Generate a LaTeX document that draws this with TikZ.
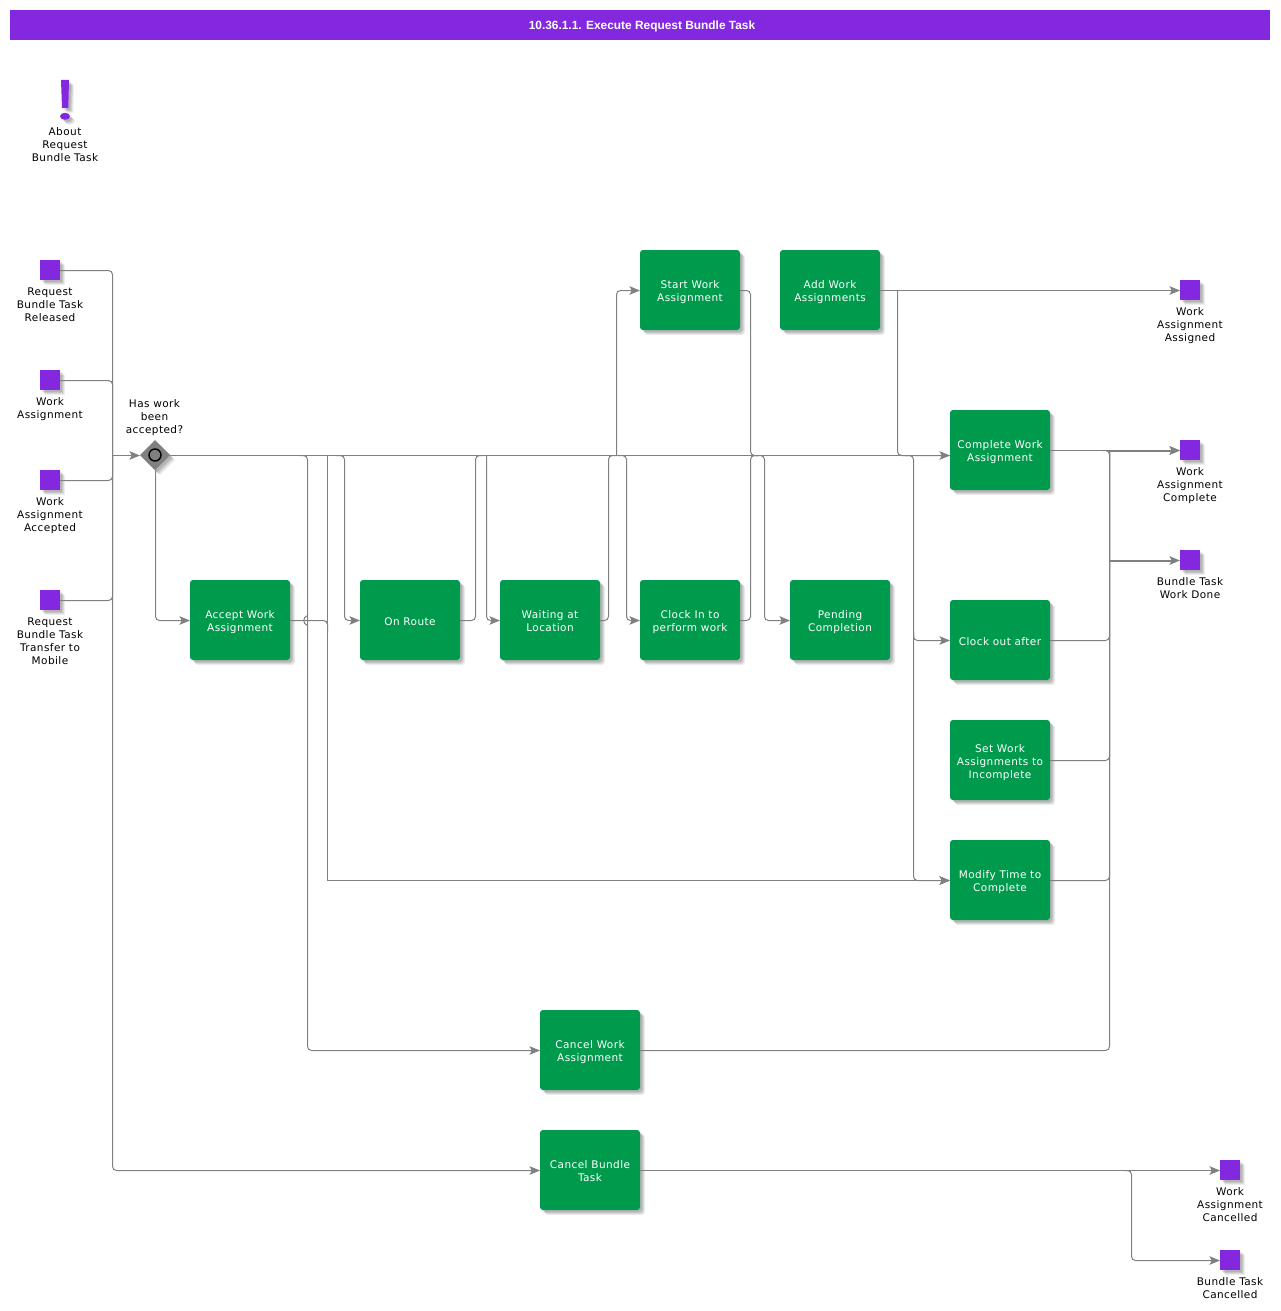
\documentclass[tikz,border=0pt]{standalone}
\usepackage{fontspec}
\setmainfont[LetterSpace=4]{DejaVu Sans}
\newfontfamily\titlefont{Liberation Sans}
\usetikzlibrary{arrows.meta,shapes.geometric,shadows}
\definecolor{bandpurple}{HTML}{8428E0}
\definecolor{taskgreen}{HTML}{009A4D}
\definecolor{linegray}{HTML}{808080}
\newcommand{\tasktext}[1]{\raisebox{-2.4pt}[\height][\depth]{\begin{tabular}{@{}c@{}}#1\end{tabular}}}
\tikzset{
  softshadow/.style={
     drop shadow={shadow xshift=5pt,shadow yshift=-5pt,opacity=.07,fill=black},
     drop shadow={shadow xshift=4pt,shadow yshift=-4pt,opacity=.08,fill=black},
     drop shadow={shadow xshift=3pt,shadow yshift=-3pt,opacity=.09,fill=black},
     drop shadow={shadow xshift=2pt,shadow yshift=-2pt,opacity=.09,fill=black}},
  taskbox/.style={rectangle,rounded corners=3pt,fill=taskgreen,minimum width=100pt,minimum height=80pt,
     inner sep=0pt,outer sep=0pt,text=white,font=\fontsize{10.5}{13}\selectfont,softshadow},
  evbox/.style={rectangle,fill=bandpurple,minimum size=20pt,inner sep=0pt,outer sep=0pt,softshadow},
  lbl/.style={align=center,inner sep=0pt,text=black,font=\fontsize{10.5}{13}\selectfont},
  conn/.style={draw=linegray,line width=1pt,rounded corners=4pt},
  flow/.style={conn,-{Stealth[length=10.5pt,width=8.5pt,inset=2.2pt,fill=linegray]}},
  flowthick/.style={flow,line width=2pt},
}
\begin{document}
\begin{tikzpicture}[x=1pt,y=-1pt]
\useasboundingbox (0,0) rectangle (1280,1311);
% title
\node[rectangle,fill=bandpurple,minimum width=1260pt,minimum height=30pt,inner sep=0pt,outer sep=0pt] (band) at (640,25) {};
\node[text=white,inner sep=0pt,font=\titlefont\fontsize{11.9}{14}\bfseries\selectfont] (title) at (642,26) {10.36.1.1. Execute Request Bundle Task};
% about mark
\fill[bandpurple,softshadow] (61,80) -- (69,80) -- (68.3,108) -- (62,108) -- cycle;
\fill[bandpurple,softshadow] (65,116.3) ellipse [x radius=5,y radius=3.5];
\node[lbl] (about) at (65,145) {About\\Request\\Bundle Task};
% start events
\node[evbox] (e1) at (50,270) {};
\node[lbl] (e1l) at (50,305) {Request\\Bundle Task\\Released};
\node[evbox] (e2) at (50,380) {};
\node[lbl] (e2l) at (50,409) {Work\\Assignment};
\node[evbox] (e3) at (50,480) {};
\node[lbl] (e3l) at (50,515.5) {Work\\Assignment\\Accepted};
\node[evbox] (e4) at (50,600) {};
\node[lbl] (e4l) at (50,641.5) {Request\\Bundle Task\\Transfer to\\Mobile};
% gateway
\node[diamond,aspect=1,fill=linegray,minimum size=30pt,inner sep=0pt,outer sep=0pt,softshadow] (gw) at (155,455) {};
\node[circle,draw=black,line width=1.4pt,fill=linegray,minimum size=12pt,inner sep=0pt] (gwc) at (155,455) {};
\node[lbl] (gwl) at (154.5,417.5) {Has work\\been\\accepted?};
% tasks
\node[taskbox] (acc) at (240,620) {\tasktext{Accept Work\\Assignment}};
\node[taskbox] (onr) at (410,620) {\tasktext{On Route}};
\node[taskbox] (wai) at (550,620) {\tasktext{Waiting at\\Location}};
\node[taskbox] (cli) at (690,620) {\tasktext{Clock In to\\perform work}};
\node[taskbox] (pen) at (840,620) {\tasktext{Pending\\Completion}};
\node[taskbox] (sta) at (690,290) {\tasktext{Start Work\\Assignment}};
\node[taskbox] (add) at (830,290) {\tasktext{Add Work\\Assignments}};
\node[taskbox] (com) at (1000,450) {\tasktext{Complete Work\\Assignment}};
\node[taskbox] (clo) at (1000,640) {\tasktext{Clock out after}};
\node[taskbox] (set) at (1000,760) {\tasktext{Set Work\\Assignments to\\Incomplete}};
\node[taskbox] (mod) at (1000,880) {\tasktext{Modify Time to\\Complete}};
\node[taskbox] (caw) at (590,1050) {\tasktext{Cancel Work\\Assignment}};
\node[taskbox] (cab) at (590,1170) {\tasktext{Cancel Bundle\\Task}};
% end events
\node[evbox] (x1) at (1190,290) {};
\node[lbl] (x1l) at (1190,325.5) {Work\\Assignment\\Assigned};
\node[evbox] (x2) at (1190,450) {};
\node[lbl] (x2l) at (1190,485.5) {Work\\Assignment\\Complete};
\node[evbox] (x3) at (1190,560) {};
\node[lbl] (x3l) at (1190,588.5) {Bundle Task\\Work Done};
\node[evbox] (x4) at (1230,1170) {};
\node[lbl] (x4l) at (1230,1205) {Work\\Assignment\\Cancelled};
\node[evbox] (x5) at (1230,1260) {};
\node[lbl] (x5l) at (1230,1288.5) {Bundle Task\\Cancelled};
% junction coordinates
\coordinate (jg) at (112.5,455.5);
\coordinate (m300) at (299,455.5);
\coordinate (m307) at (307.5,455.5);
\coordinate (m327) at (327.5,455.5);
\coordinate (m336) at (336,455.5);
\coordinate (m344) at (344.5,455.5);
\coordinate (m475) at (475.5,455.5);
\coordinate (m484) at (484,455.5);
\coordinate (m486) at (486.5,455.5);
\coordinate (m608) at (608.5,455.5);
\coordinate (m617) at (617,455.5);
\coordinate (m616) at (616.5,455.5);
\coordinate (m618) at (618,455.5);
\coordinate (m626) at (626.5,455.5);
\coordinate (m750) at (750.5,455.5);
\coordinate (m758) at (758,455.5);
\coordinate (m756) at (756,455.5);
\coordinate (m764) at (764.5,455.5);
\coordinate (m905) at (905,455.5);
\coordinate (m913) at (913.5,455.5);
\coordinate (a897) at (897.5,290.5);
\coordinate (v913) at (913.5,632);
\coordinate (o1109) at (1109.5,450.5);
\coordinate (o1102) at (1102,450.5);
\coordinate (d1109) at (1109.5,560.5);
\coordinate (b1124) at (1124,1170.5);
\coordinate (b1131) at (1131.5,1170.5);
\coordinate (hopa) at (307.5,615.5);
\coordinate (hopc) at (307.5,625.5);
% connectors into the gateway
\draw[flow] ([yshift=-.5pt]e1.east) -| (jg) |- ([yshift=-.5pt]cab.west);
\draw[conn] ([yshift=-.5pt]e2.east) -| (jg);
\draw[conn] ([yshift=-.5pt]e3.east) -| (jg);
\draw[conn] ([yshift=-.5pt]e4.east) -| (jg);
\draw[flow] (jg) -- ([yshift=-.5pt]gw.west);
% main line and gateway branch
\draw[flow] ([yshift=-.5pt]gw.east) -- ([yshift=-5.5pt]com.west);
\draw[flow] ([xshift=.5pt]gw.south) |- ([yshift=-.5pt]acc.west);
% branches from main line
\draw[flow] (m300) -- (m307) |- ([yshift=-.5pt]caw.west);
\draw[flow,sharp corners] (m327) |- ([yshift=-.5pt]mod.west);
\draw[flow] (m336) -- (m344) |- ([yshift=-.5pt]onr.west);
\draw[flow] (m486) |- ([yshift=-.5pt]wai.west);
\draw[flow] (m618) -- (m626) |- ([yshift=-.5pt]cli.west);
\draw[flow] (m616) |- ([yshift=-.5pt]sta.west);
\draw[flow] (m756) -- (m764) |- ([yshift=-.5pt]pen.west);
\draw[flow] (m905) -- (m913) |- ([yshift=-.5pt]clo.west);
\draw[flow] (v913) |- ([yshift=-.5pt]mod.west);
% outputs back to main line
\draw[conn] ([yshift=-.5pt]acc.east) -| (m327 |- v913);
\draw[conn,sharp corners] (hopa) .. controls (302.5,617) and (302.5,624) .. (hopc);
\draw[conn] ([yshift=-.5pt]onr.east) -| (m475) -- (m484);
\draw[conn] ([yshift=-.5pt]wai.east) -| (m608) -- (m617);
\draw[conn] ([yshift=-.5pt]sta.east) -| (m750) -- (m758);
\draw[conn] ([yshift=-.5pt]cli.east) -| (m750) -- (m758);
% add work
\draw[flow] ([yshift=-.5pt]add.east) -- ([yshift=-.5pt]x1.west);
\draw[conn] (a897) |- ([yshift=-5.5pt]com.west);
% complete outputs
\draw[flow] ([yshift=-.5pt]com.east) -- ([yshift=-.5pt]x2.west);
\draw[flowthick] (o1109) -- ([yshift=-.5pt]x2.west);
\draw[flowthick] (d1109) -- ([yshift=-.5pt]x3.west);
\draw[conn] ([yshift=-.5pt]clo.east) -| (o1109) -- (o1102);
\draw[conn] ([yshift=-.5pt]set.east) -| (o1109);
\draw[conn] ([yshift=-.5pt]mod.east) -| (o1109);
\draw[conn] ([yshift=-.5pt]caw.east) -| (o1109);
% cancel bundle
\draw[flow] ([yshift=-.5pt]cab.east) -- ([yshift=-.5pt]x4.west);
\draw[flow] (b1124) -- (b1131) |- ([yshift=-.5pt]x5.west);
\end{tikzpicture}
\end{document}
